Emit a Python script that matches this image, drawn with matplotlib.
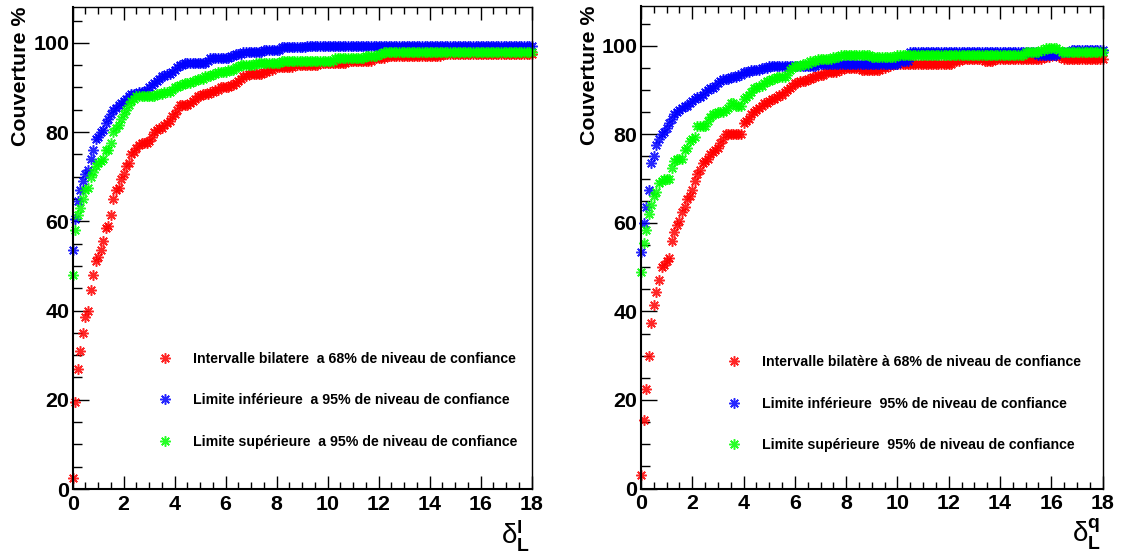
import numpy as np
import matplotlib
matplotlib.use('Agg')
import matplotlib.pyplot as plt
from matplotlib.ticker import MultipleLocator

plt.rcParams['font.family'] = ['Liberation Sans', 'DejaVu Sans']
plt.rcParams['font.weight'] = 'bold'
plt.rcParams['mathtext.fontset'] = 'custom'
plt.rcParams['mathtext.rm'] = 'Liberation Sans:normal'
plt.rcParams['mathtext.it'] = 'Liberation Sans:italic:normal'
plt.rcParams['mathtext.bf'] = 'Liberation Sans:bold'

# delta values, step 0.1 from 0 to 18
delta = np.linspace(0, 18, 181)

# left panel (delta_L^l)
left_bilat = [
    2.5, 19.5, 27, 31, 35, 38.5, 40, 44.5, 48, 51,
    52, 53.5, 55.5, 58.5, 59, 61.5, 65, 67, 67.5, 69.5,
    70.5, 72.5, 73, 75, 75.5, 76.5, 77, 77.5, 77.5, 77.5,
    78, 79, 80, 80.5, 81, 81, 81.5, 82, 82.5, 83.5,
    84, 85, 86, 86, 86, 86, 86.5, 87, 87.5, 88,
    88, 88.5, 88.5, 88.5, 89, 89, 89.5, 89.5, 90, 90,
    90, 90, 90.5, 90.5, 91, 91.5, 92, 92.5, 92.5, 93,
    93, 93, 93, 93, 93, 93.5, 93.5, 94, 94, 94.5,
    94.5, 94.5, 94.5, 94.5, 94.5, 94.5, 94.5, 95, 95, 95,
    95, 95, 95, 95, 95, 95, 95, 95.5, 95.5, 95.5,
    95.5, 95.5, 95.5, 95.5, 95.5, 95.5, 95.5, 95.5, 96, 96,
    96, 96, 96, 96, 96, 96, 96, 96, 96.5, 96.5,
    96.5, 96.5, 96.5, 97, 97, 97, 97, 97, 97, 97,
    97, 97, 97, 97, 97, 97, 97, 97, 97, 97,
    97, 97, 97, 97, 97, 97.5, 97.5, 97.5, 97.5, 97.5,
    97.5, 97.5, 97.5, 97.5, 97.5, 97.5, 97.5, 97.5, 97.5, 97.5,
    97.5, 97.5, 97.5, 97.5, 97.5, 97.5, 97.5, 97.5, 97.5, 97.5,
    97.5, 97.5, 97.5, 97.5, 97.5, 97.5, 97.5, 97.5, 97.5, 97.5,
    97.5,
]
left_inf = [
    53.5, 60.5, 64.5, 67, 69, 70.5, 71.5, 74, 76, 78.5,
    79, 80, 80.5, 82, 83, 84, 85, 85.5, 86, 86.5,
    87, 87.5, 88, 88.5, 88.5, 88.5, 89, 89, 89, 89.5,
    90, 90.5, 91, 91.5, 92, 92.5, 92.5, 93, 93, 93.5,
    94, 94.5, 95, 95, 95.5, 95.5, 95.5, 95.5, 95.5, 95.5,
    95.5, 95.5, 95.5, 96, 96.5, 96.5, 96.5, 96.5, 96.5, 96.5,
    96.5, 96.5, 97, 97, 97.5, 97.5, 97.5, 98, 98, 98,
    98, 98, 98, 98, 98, 98.5, 98.5, 98.5, 98.5, 98.5,
    98.5, 98.5, 99, 99, 99, 99, 99, 99, 99, 99,
    99, 99, 99.3, 99.3, 99.3, 99.3, 99.3, 99.3, 99.3, 99.3,
    99.3, 99.3, 99.3, 99.3, 99.3, 99.3, 99.3, 99.3, 99.3, 99.3,
    99.3, 99.3, 99.3, 99.3, 99.3, 99.3, 99.3, 99.3, 99.3, 99.3,
    99.3, 99.3, 99.3, 99.3, 99.3, 99.3, 99.3, 99.3, 99.3, 99.3,
    99.3, 99.3, 99.3, 99.3, 99.3, 99.3, 99.3, 99.3, 99.3, 99.3,
    99.3, 99.3, 99.3, 99.3, 99.3, 99.3, 99.3, 99.3, 99.3, 99.3,
    99.3, 99.3, 99.3, 99.3, 99.3, 99.3, 99.3, 99.3, 99.3, 99.3,
    99.3, 99.3, 99.3, 99.3, 99.3, 99.3, 99.3, 99.3, 99.3, 99.3,
    99.3, 99.3, 99.3, 99.3, 99.3, 99.3, 99.3, 99.3, 99.3, 99.3,
    99.3,
]
left_sup = [
    48, 58, 61.5, 63, 65, 67, 67.5, 70, 71, 72.5,
    73, 73.5, 74, 76, 76, 77.5, 80, 81, 81.5, 83,
    84, 85, 86, 87, 87.5, 88, 88, 88, 88, 88,
    88, 88, 88, 88.5, 88.5, 88.5, 89, 89, 89, 89.5,
    90, 90, 90.5, 90.5, 91, 91, 91, 91.5, 91.5, 92,
    92, 92, 92.5, 92.5, 92.5, 93, 93, 93.5, 93.5, 93.5,
    93.5, 94, 94, 94, 94.5, 94.5, 95, 95, 95, 95,
    95, 95, 95.5, 95.5, 95.5, 95.5, 95.5, 95.5, 95.5, 95.5,
    95.5, 95.5, 96, 96, 96, 96, 96, 96, 96, 96,
    96, 96, 96, 96, 96, 96, 96, 96, 96, 96,
    96, 96, 96, 96.5, 96.5, 96.5, 96.5, 96.5, 96.5, 96.5,
    96.5, 96.5, 96.5, 96.5, 96.5, 97, 97, 97, 97, 97,
    97.5, 97.5, 98, 98, 98, 98, 98, 98, 98, 98,
    98, 98, 98, 98, 98, 98, 98, 98, 98, 98,
    98, 98, 98, 98, 98, 98, 98, 98, 98, 98,
    98, 98, 98, 98, 98, 98, 98, 98, 98, 98,
    98, 98, 98, 98, 98, 98, 98, 98, 98, 98,
    98, 98, 98, 98, 98, 98, 98, 98, 98, 98,
    98,
]

# right panel (delta_L^q)
right_bilat = [
    3, 15.5, 22.5, 30, 37.5, 41.5, 44.5, 47, 50, 50.5,
    51.5, 52, 56, 58, 59.5, 60.5, 62.5, 63.5, 65.5, 66,
    67.5, 69.5, 71, 72, 73.5, 74, 74.5, 75.5, 76, 76.5,
    77, 78, 79, 80, 80, 80, 80, 80, 80, 80,
    82.5, 83, 83.5, 84.5, 85, 85.5, 86, 86.5, 87, 87,
    87.5, 88, 88, 88.5, 89, 89, 89.5, 90, 90.5, 91,
    91.5, 91.5, 92, 92, 92, 92.5, 92.5, 93, 93, 93.5,
    93.5, 93.5, 94, 94, 94, 94, 94, 94.5, 94.5, 95,
    95, 95, 95, 95, 95, 95, 94.5, 94.5, 94.5, 94.5,
    94.5, 94.5, 94.5, 94.5, 95, 95, 95.5, 95.5, 96, 96,
    96, 96, 96, 96, 96, 96, 96, 96, 96, 96,
    96, 96, 96, 96, 96, 96, 96, 96, 96, 96,
    96, 96, 96.5, 96.5, 96.5, 97, 97, 97, 97, 97,
    97, 97, 97, 97, 96.5, 96.5, 96.5, 96.5, 97, 97,
    97, 97, 97, 97, 97, 97, 97, 97, 97, 97,
    97, 97, 97, 97, 97, 97, 97, 97.5, 97.5, 97.5,
    98, 98, 98, 97.5, 97.5, 97, 97, 97, 97, 97,
    97, 97, 97, 97, 97, 97, 97, 97, 97, 97,
    97,
]
right_inf = [
    53.5, 60, 63.5, 67.5, 73.5, 75, 77.5, 79, 80, 80.5,
    81.5, 82.5, 83.5, 84.5, 85, 85.5, 86, 86.5, 86.5, 87,
    87.5, 88, 88.5, 88.5, 89, 89.5, 90, 90.5, 90.5, 91,
    91.5, 92, 92.5, 92.5, 92.5, 93, 93, 93, 93.5, 93.5,
    94, 94, 94, 94.5, 94.5, 94.5, 94.5, 95, 95, 95,
    95.5, 95.5, 95.5, 95.5, 95.5, 95.5, 95.5, 95.5, 95.5, 95.5,
    95.5, 95.5, 95.5, 95.5, 95.5, 95.5, 95.5, 95.5, 95.5, 96,
    96, 96, 96, 96, 96, 96, 96, 96, 96, 96,
    96, 96, 96, 96, 96, 96, 96, 96, 96, 96,
    96, 96, 96, 96, 96, 96, 96, 96, 96, 96,
    96, 96.5, 96.5, 96.5, 96.5, 98.5, 98.5, 98.5, 98.5, 98.5,
    98.5, 98.5, 98.5, 98.5, 98.5, 98.5, 98.5, 98.5, 98.5, 98.5,
    98.5, 98.5, 98.5, 98.5, 98.5, 98.5, 98.5, 98.5, 98.5, 98.5,
    98.5, 98.5, 98.5, 98.5, 98.5, 98.5, 98.5, 98.5, 98.5, 98.5,
    98.5, 98.5, 98.5, 98.5, 98.5, 98.5, 98.5, 98.5, 98.5, 98.5,
    98.5, 98.5, 98.5, 98.5, 98.5, 98, 98, 98, 98, 98,
    98, 98, 98, 98.5, 98.5, 98.5, 98.5, 98.5, 99, 99,
    99, 99, 99, 99, 99, 99, 99, 99, 99, 99,
    99,
]
right_sup = [
    49, 55.5, 58.5, 62, 64, 66, 67, 69, 69.5, 70,
    70, 70, 72.5, 74, 74.5, 74.5, 74.5, 76.5, 77, 78.5,
    79, 79.5, 82, 82, 82, 82, 83, 84, 84.5, 84.5,
    85, 85, 85, 85.5, 86, 87, 87, 86.5, 86.5, 86.5,
    88, 88.5, 89, 89.5, 90.5, 90.5, 91, 91, 91.5, 92,
    92, 92.5, 92.5, 93, 93, 93, 93, 93.5, 94.5, 95,
    95.5, 95.5, 95.5, 96, 96, 96, 96.5, 96.5, 96.5, 97,
    97, 97, 97, 97, 97, 97.5, 97.5, 97.5, 98, 98,
    98, 98, 98, 98, 98, 98, 98, 98, 98, 98,
    97.5, 97.5, 97.5, 97.5, 97.5, 97.5, 97.5, 97.5, 97.5, 97.5,
    98, 98, 98, 98, 98, 98, 98, 98, 98, 98,
    98, 98, 98, 98, 98, 98, 98, 98, 98, 98,
    98, 98, 98, 98, 98, 98, 98, 98, 98, 98,
    98, 98, 98, 98, 98, 98, 98, 98, 98, 98,
    98, 98, 98, 98, 98, 98, 98, 98, 98, 98,
    98.5, 98.5, 98.5, 98.5, 98.5, 98.5, 99, 99, 99.5, 99.5,
    99.5, 99.5, 99.5, 99, 98.5, 98.5, 98.5, 98.5, 98.5, 98.5,
    98.5, 98.5, 98.5, 98.5, 98.5, 98.5, 98.5, 98.5, 98.5, 98.5,
    98.5,
]

labels_left = [
    'Intervalle bilatere  a 68% de niveau de confiance',
    'Limite inférieure  a 95% de niveau de confiance',
    'Limite supérieure  a 95% de niveau de confiance',
]
labels_right = [
    'Intervalle bilatère à 68% de niveau de confiance',
    'Limite inférieure  95% de niveau de confiance',
    'Limite supérieure  95% de niveau de confiance',
]
colors = ['#ff0000', '#0000ff', '#00ff00']


def draw_panel(ax, series, labels, ymax, xlab, leg_xy):
    for vals, col, lab in zip(series, colors, labels):
        ax.plot(delta, vals, ls='none', marker=(8, 2, 0), ms=7.5, mew=1.1,
                color=col, alpha=0.85, label=lab, clip_on=False)
    ax.set_xlim(0, 18)
    ax.set_ylim(0, ymax)
    ax.xaxis.set_major_locator(MultipleLocator(2))
    ax.xaxis.set_minor_locator(MultipleLocator(0.5))
    ax.yaxis.set_major_locator(MultipleLocator(20))
    ax.yaxis.set_minor_locator(MultipleLocator(5))
    ax.tick_params(axis='y', which='major', direction='in', length=11.3, width=1,
                   left=True, right=False, labelsize=15.4, pad=2.5)
    ax.tick_params(axis='y', which='minor', direction='in', length=6.5, width=1,
                   left=True, right=False)
    ax.tick_params(axis='x', which='major', direction='in', length=9.4, width=1,
                   top=True, bottom=True, labelsize=15.4, pad=4)
    ax.tick_params(axis='x', which='minor', direction='in', length=5, width=1,
                   top=True, bottom=True)
    for s in ['left', 'bottom']:
        ax.spines[s].set_linewidth(1.5)
    for s in ['top', 'right']:
        ax.spines[s].set_linewidth(1.0)
    ax.set_ylabel('Couverture %', fontsize=15.4, fontweight='bold', loc='top')
    ax.yaxis.set_label_coords(-0.092, 1.0)
    ax.set_xlabel(xlab, fontsize=20, loc='right')
    ax.xaxis.set_label_coords(0.997, -0.058)
    ax.legend(loc='upper left', bbox_to_anchor=leg_xy, frameon=False,
              borderpad=0, borderaxespad=0, handlelength=1.0,
              handletextpad=1.45, labelspacing=1.93, numpoints=1,
              prop={'weight': 'bold', 'size': 10.2})


fig = plt.figure(figsize=(11.23, 5.54), dpi=100)
ax1 = fig.add_axes([0.0647, 0.1173, 0.4087, 0.8706])
ax2 = fig.add_axes([0.5708, 0.1182, 0.411, 0.871])

draw_panel(ax1, [left_bilat, left_inf, left_sup], labels_left, 108.1,
           r'$\mathrm{\delta}_{\mathbf{L}}^{\mathbf{l}}$', (0.186, 0.284))
draw_panel(ax2, [right_bilat, right_inf, right_sup], labels_right, 109.0,
           r'$\mathrm{\delta}_{\mathbf{L}}^{\mathbf{q}}$', (0.187, 0.276))

fig.savefig('out.png', dpi=100)
